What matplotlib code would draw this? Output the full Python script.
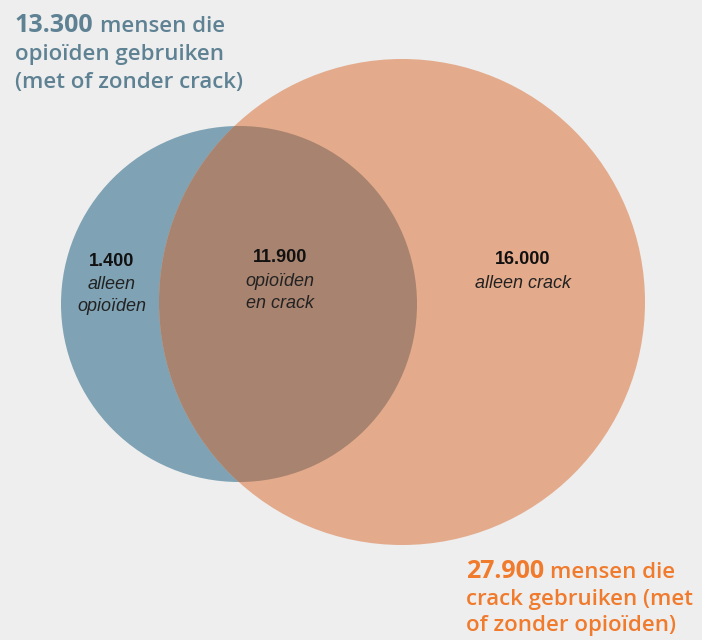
import matplotlib.pyplot as plt
from matplotlib.patches import Circle

# Gegevens
totaal_opioiden = "13.300"
totaal_crack = "27.900"
segment_waarden = ["1.400", "11.900", "16.000"]
segment_labels = ["alleen\nopioïden", "opioïden\nen crack", "alleen crack"]

# Kleuren
achtergrond = "#eeeeee"
blauw = "#7fa3b4"
oranje = "#e3aa8b"
overlap = "#a8836f"
titel_blauw = "#5e8293"
titel_oranje = "#f07b2d"

fig = plt.figure(figsize=(7.02, 6.40), dpi=100, facecolor=achtergrond)
ax = fig.add_axes([0, 0, 1, 1])
ax.set_xlim(0, 702)
ax.set_ylim(640, 0)
ax.set_aspect("equal")
ax.axis("off")

# Cirkels (positie in pixels)
c_blauw = (239, 304, 178)
c_oranje = (402, 302, 243)

ax.add_patch(Circle(c_blauw[:2], c_blauw[2], color=blauw, lw=0))
ax.add_patch(Circle(c_oranje[:2], c_oranje[2], color=oranje, lw=0))
clip = Circle(c_blauw[:2], c_blauw[2], transform=ax.transData)
doorsnede = Circle(c_oranje[:2], c_oranje[2], color=overlap, lw=0)
ax.add_patch(doorsnede)
doorsnede.set_clip_path(clip)

# Segmentlabels
posities = [(112, 261), (280, 258), (523, 260)]
for (x, y), w, l in zip(posities, segment_waarden, segment_labels):
    ax.text(x, y, w, ha="center", va="center", fontsize=13, fontweight="bold",
            family="Liberation Sans", color="#111111")
    ax.text(x, y + 15, l, ha="center", va="top", fontsize=13, style="italic",
            family="Liberation Sans", color="#222222", linespacing=1.4)

# Titels
def titel(x, y, getal, regels, kleur, stap):
    t = ax.text(x, y, getal, ha="left", va="baseline", fontsize=18,
                fontweight="bold", family="Open Sans", color=kleur)
    fig.canvas.draw()
    bb = t.get_window_extent()
    x2 = ax.transData.inverted().transform((bb.x1, 0))[0]
    ax.text(x2 + 6, y, regels[0], ha="left", va="baseline", fontsize=16,
            fontweight="semibold", family="Open Sans", color=kleur)
    for i, r in enumerate(regels[1:]):
        ax.text(x, y + stap * (i + 1), r, ha="left", va="baseline", fontsize=16,
                fontweight="semibold", family="Open Sans", color=kleur)

titel(15, 32, totaal_opioiden,
      ["mensen die", "opioïden gebruiken", "(met of zonder crack)"], titel_blauw, 28)
titel(466, 578, totaal_crack,
      ["mensen die", "crack gebruiken (met", "of zonder opioïden)"], titel_oranje, 26.5)

fig.savefig("out.png", dpi=100, facecolor=achtergrond)
